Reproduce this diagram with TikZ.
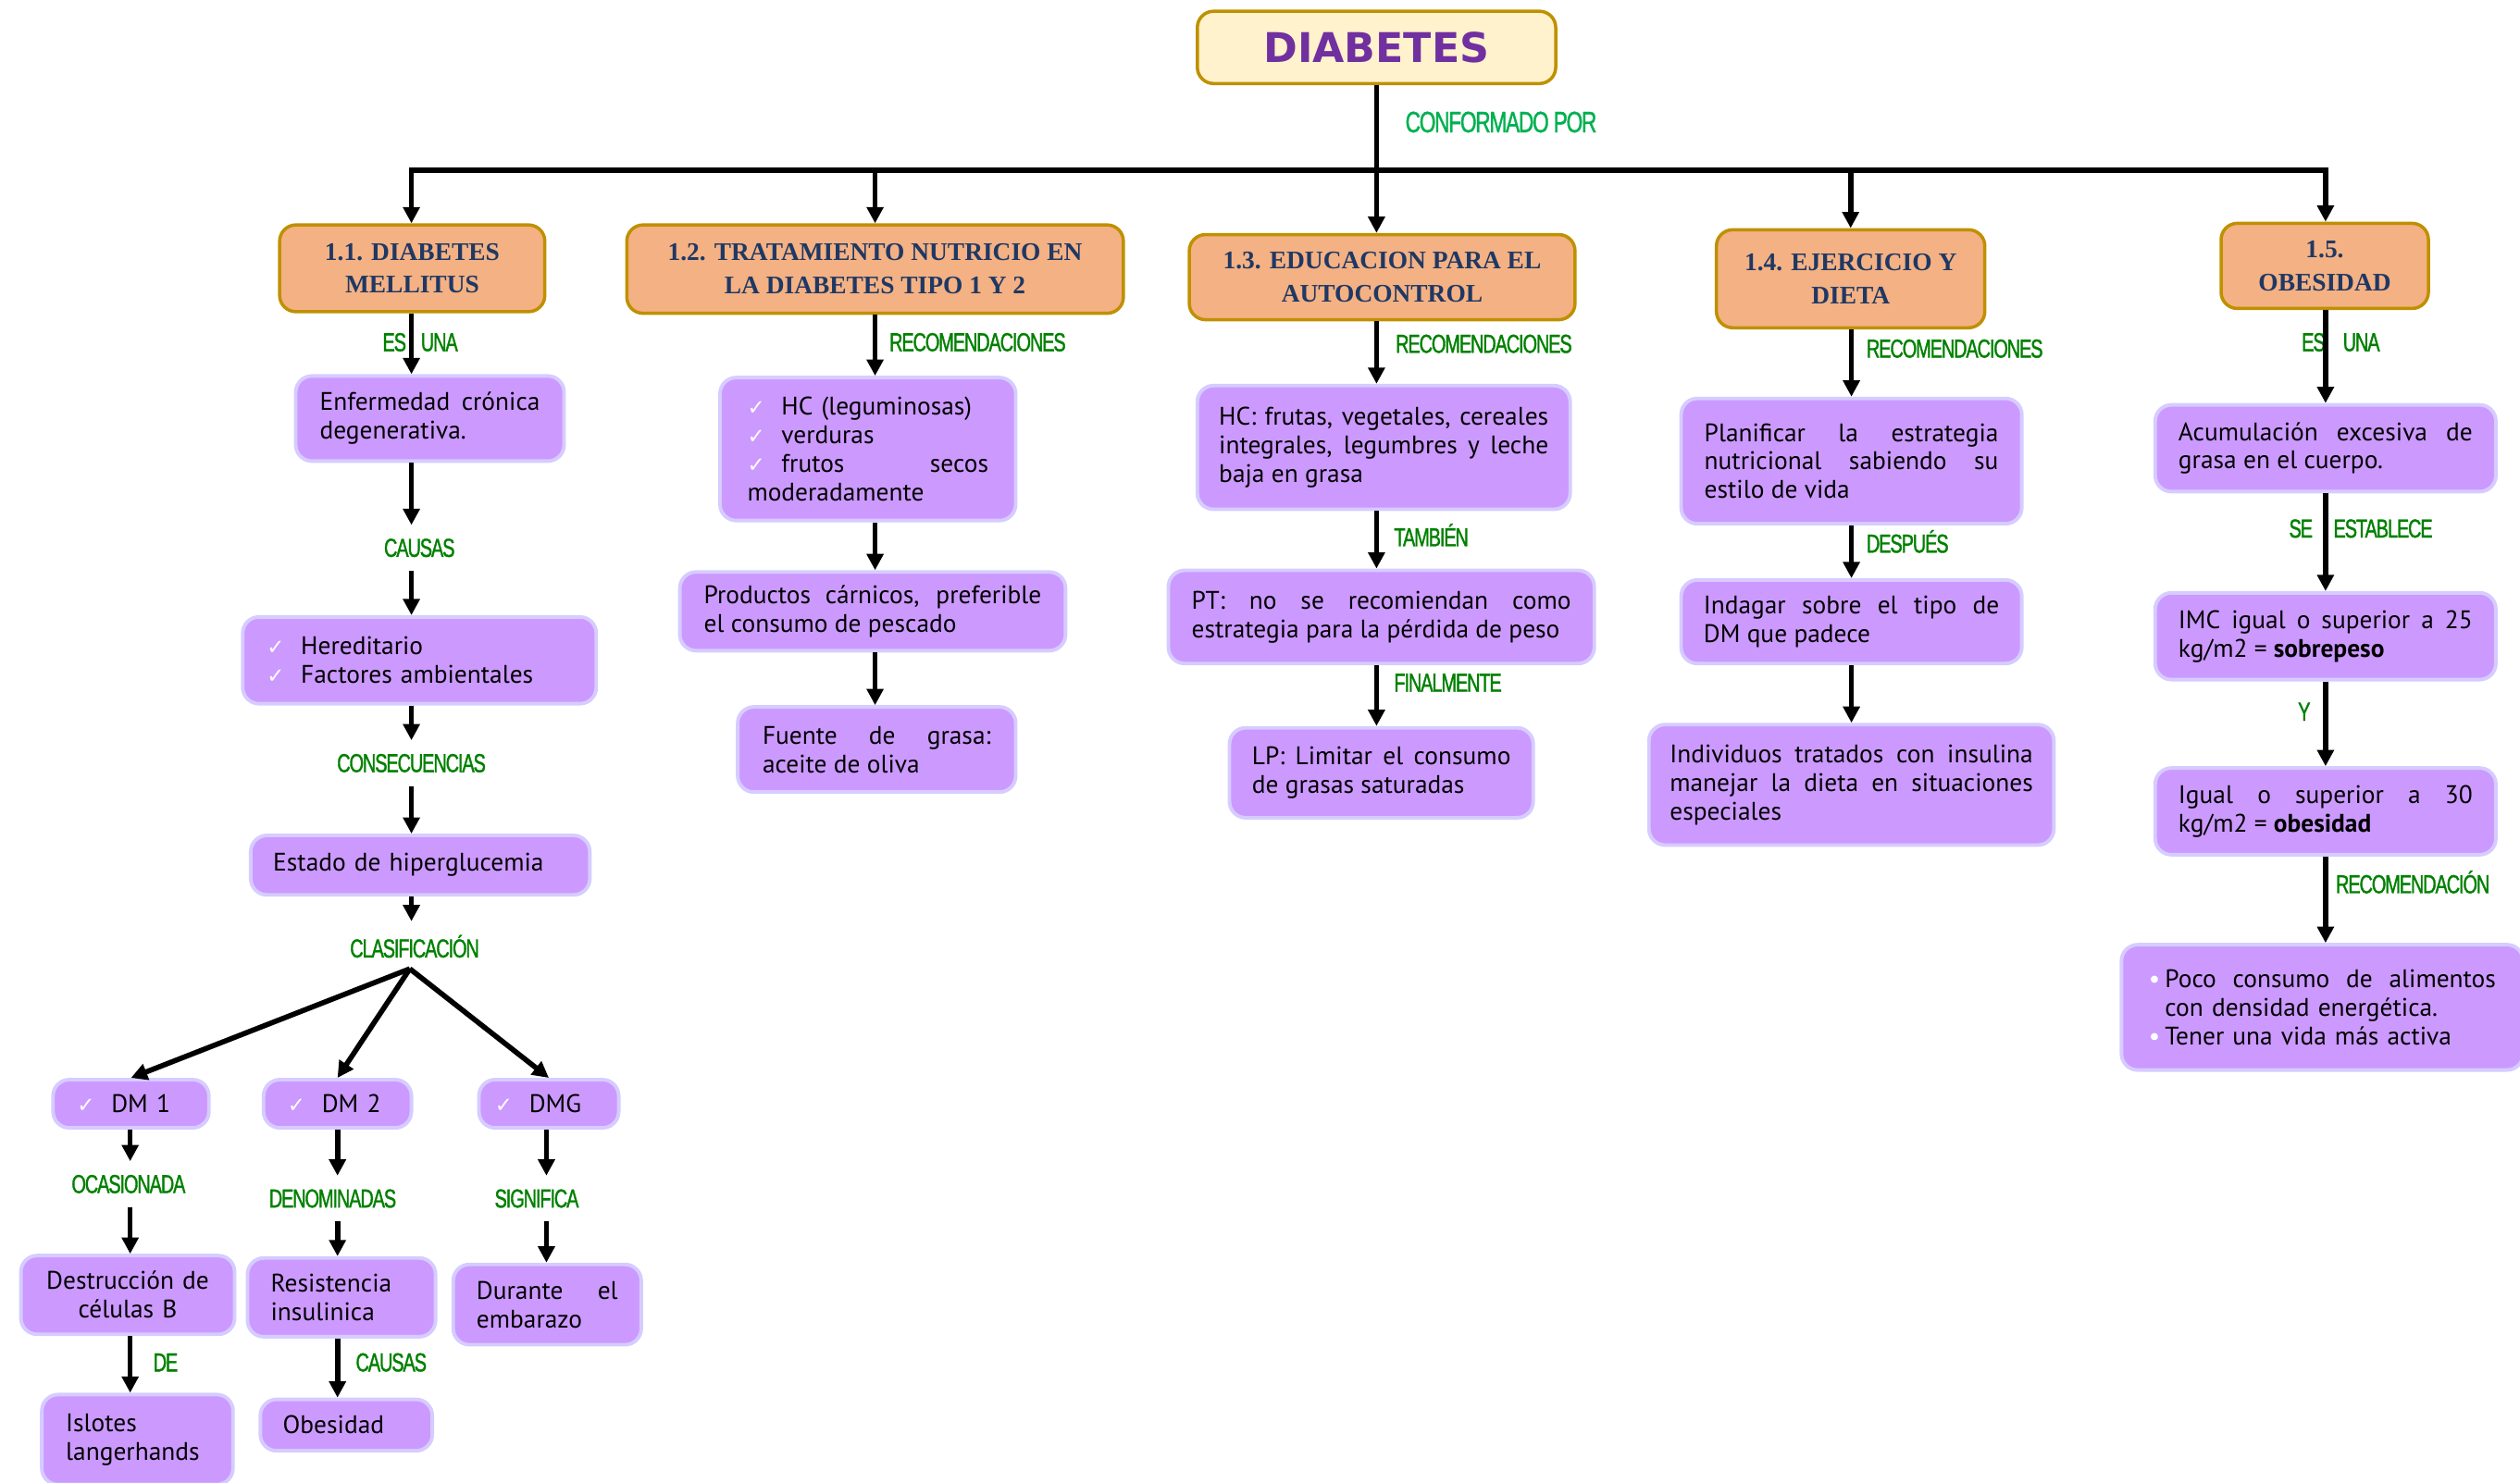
\documentclass[tikz,border=0pt]{standalone}
\usepackage{fontspec}
\setmainfont{PT Sans}
\newfontfamily\hdfont{Liberation Serif}
\newfontfamily\lblfont[FakeStretch=0.71, LetterSpace=-4.0, FakeBold=1.2]{Liberation Sans}
\newfontfamily\symfont{DejaVu Sans}
\usetikzlibrary{arrows.meta}

\definecolor{hdfill}{HTML}{F4B183}
\definecolor{gold}{HTML}{BF9000}
\definecolor{cream}{HTML}{FFF2CC}
\definecolor{navy}{HTML}{1F3864}
\definecolor{ttlpurple}{HTML}{7030A0}
\definecolor{lilac}{HTML}{CC99FF}
\definecolor{lilacline}{HTML}{D6CCFF}
\definecolor{lblgreen}{HTML}{008000}
\definecolor{confgreen}{HTML}{00B050}

\hyphenpenalty=10000
\exhyphenpenalty=10000
\newcommand{\du}{0.017366cm}
\newcommand{\chk}{\makebox[10.5pt][l]{\textcolor{white}{\symfont\fontsize{6.5}{6.5}\selectfont ✓}}}
\newcommand{\blt}{\makebox[5pt][l]{\textcolor{white}{•}}}

\begin{document}
\begin{tikzpicture}[x=\du, y=-\du,
    title/.style={rectangle, rounded corners=5pt, draw=gold, line width=1pt, fill=cream,
      minimum width=223*\du, minimum height=45*\du, text=ttlpurple,
      font=\symfont\bfseries\fontsize{12.6}{14}\selectfont},
    head/.style={rectangle, rounded corners=5pt, draw=gold, line width=1pt, fill=hdfill,
      align=center, text=navy, font=\hdfont\bfseries\fontsize{7.8}{10.2}\selectfont},
    wh/.style 2 args={minimum width=#1*\du, minimum height=#2*\du},
    card/.style={rectangle, rounded corners=5pt, draw=lilacline, line width=1.1pt, fill=lilac,
      inner xsep=0pt, inner ysep=2pt, font=\fontsize{7.8}{8.8}\selectfont},
    sz/.style n args={3}{minimum width=#1*\du, minimum height=#2*\du, text width=#3*\du},
    lbl/.style={text=lblgreen, font=\lblfont\fontsize{8}{8}\selectfont, inner xsep=1pt, inner ysep=4pt},
    link/.style={line width=1.6pt},
    arr/.style={link, -{Triangle[length=5pt,width=5pt]}}]
  \useasboundingbox (0,0) rectangle (1568,923);

  % top
  \node[title] (T) at (856.5,29.5) {DIABETES};
  \node[lbl, text=confgreen, font=\lblfont\fontsize{9.1}{9.1}\selectfont] (conf) at (934,76) {CONFORMADO POR};

  \coordinate (j1) at (256,106);
  \coordinate (j2) at (544.5,106);
  \coordinate (j4) at (1151.5,106);
  \coordinate (j5) at (1447,106);

  \node[head, wh={165}{54}] (H1) at (256.5,167) {1.1. DIABETES\\MELLITUS};
  \node[head, wh={309}{55}] (H2) at (544.5,167.5) {1.2. TRATAMIENTO NUTRICIO EN\\LA DIABETES TIPO 1 Y 2};
  \node[head, wh={240}{53}] (H3) at (860,172.5) {1.3. EDUCACION PARA EL\\AUTOCONTROL};
  \node[head, wh={167}{61}] (H4) at (1151.5,173.5) {1.4. EJERCICIO Y\\DIETA};
  \node[head, wh={129}{53}] (H5) at (1446.5,165.5) {1.5.\\OBESIDAD};

  \draw[link, line cap=rect] (j1) -- (j5);
  \draw[arr] (T.south) -- (T.south |- H3.north);
  \draw[arr] (j1) -- (j1 |- H1.north);
  \draw[arr] (j2) -- (j2 |- H2.north);
  \draw[arr] (j4) -- (j4 |- H4.north);
  \draw[arr] (j5) -- (j5 |- H5.north);

  % 1.1 diabetes mellitus
  \coordinate (c1) at (256,0);
  \node[lbl] (esuna1) at (261.5,213) {ES\hspace{4.5pt}UNA};
  \node[card, sz={167}{53}{137}, align=justify] (P1) at (267.5,260.5) {Enfermedad crónica\linebreak degenerativa.};
  \node[lbl] (causas1) at (261,341) {CAUSAS};
  \node[card, sz={220}{54}{190}, align=left] (P2) at (261,411) {\chk Hereditario\\{}\chk Factores ambientales};
  \node[lbl] (conse) at (256,475) {CONSECUENCIAS};
  \node[card, sz={211}{37}{183}, align=left] (P3) at (261.5,538.5) {Estado de hiperglucemia};
  \node[lbl] (clasif) at (258,589) {CLASIFICACIÓN};
  \coordinate (br) at (255,603);

  \draw[arr] (c1 |- H1.south) -- (c1 |- P1.north);
  \draw[arr] (c1 |- P1.south) -- (c1 |- causas1.north);
  \draw[arr] (c1 |- causas1.south) -- (c1 |- P2.north);
  \draw[arr] (c1 |- P2.south) -- (c1 |- conse.north);
  \draw[arr] (c1 |- conse.south) -- (c1 |- P3.north);
  \draw[arr] (c1 |- P3.south) -- (c1 |- clasif.north);

  \node[card, sz={97}{30}{67}, align=left] (dm1) at (81.5,687) {\chk DM 1};
  \node[card, sz={92}{30}{62}, align=left] (dm2) at (210,687) {\chk DM 2};
  \node[card, sz={87}{30}{67}, align=left] (dmg) at (341.5,687) {\chk DMG};
  \draw[arr] (br) -- (dm1.north);
  \draw[arr] (br) -- (dm2.north);
  \draw[arr] (br) -- (dmg.north);

  % DM 1
  \coordinate (cdm1) at (81,0);
  \node[lbl] (ocas) at (80,737) {OCASIONADA};
  \node[card, sz={133}{49}{110}, align=center] (des) at (79.5,806) {Destrucción de\\células B};
  \node[lbl, anchor=west] (de) at (93,848) {DE};
  \node[card, sz={119}{56}{89}, align=left] (isl) at (85.5,896) {Islotes\\langerhands};
  \draw[arr] (cdm1 |- dm1.south) -- (cdm1 |- ocas.north);
  \draw[arr] (cdm1 |- ocas.south) -- (cdm1 |- des.north);
  \draw[arr] (cdm1 |- des.south) -- (cdm1 |- isl.north);

  % DM 2
  \coordinate (cdm2) at (210,0);
  \node[lbl] (denom) at (207,746) {DENOMINADAS};
  \node[card, sz={117}{49}{88}, align=left] (res) at (212.5,807.5) {Resistencia\\insulinica};
  \node[lbl, anchor=west] (causas2) at (219,848) {CAUSAS};
  \node[card, sz={107}{32}{79}, align=left] (obe) at (215.5,887) {Obesidad};
  \draw[arr] (cdm2 |- dm2.south) -- (cdm2 |- denom.north);
  \draw[arr] (cdm2 |- denom.south) -- (cdm2 |- res.north);
  \draw[arr] (cdm2 |- res.south) -- (cdm2 |- obe.north);

  % DMG
  \coordinate (cdmg) at (340,0);
  \node[lbl] (signif) at (334,746) {SIGNIFICA};
  \node[card, sz={117}{50}{88}, align=justify] (dur) at (340.5,812) {Durante el\linebreak embarazo};
  \draw[arr] (cdmg |- dmg.south) -- (cdmg |- signif.north);
  \draw[arr] (cdmg |- signif.south) -- (cdmg |- dur.north);

  % 1.2 tratamiento nutricio
  \coordinate (c2) at (544.5,0);
  \node[lbl, anchor=west] (rec2) at (551,213) {RECOMENDACIONES};
  \node[card, sz={184}{89}{150}, align=left] (hcl) at (540,279.5) {\chk HC (leguminosas)\\{}\chk verduras\\{}\chk frutos\hfill secos\\moderadamente};
  \node[card, sz={240}{49}{210}, align=justify] (prod) at (543,380.5) {Productos cárnicos, preferible\linebreak el consumo de pescado};
  \node[card, sz={173}{53}{142}, align=justify] (fue) at (545.5,466.5) {Fuente de grasa:\linebreak aceite de oliva};
  \draw[arr] (c2 |- H2.south) -- (c2 |- hcl.north);
  \draw[arr] (c2 |- hcl.south) -- (c2 |- prod.north);
  \draw[arr] (c2 |- prod.south) -- (c2 |- fue.north);

  % 1.3 educacion para el autocontrol
  \coordinate (c3) at (856.5,0);
  \node[lbl, anchor=west] (rec3) at (866,214) {RECOMENDACIONES};
  \node[card, sz={232}{77}{205}, align=justify] (hc) at (861,278.5) {HC: frutas, vegetales, cereales\linebreak integrales, legumbres y leche\linebreak baja en grasa};
  \node[lbl, anchor=west] (tamb) at (865,333) {TAMBIÉN};
  \node[card, sz={265}{58}{236}, align=justify] (pt) at (859.5,384) {PT: no se recomiendan como\linebreak estrategia para la pérdida de peso};
  \node[lbl, anchor=west] (fin) at (865,425) {FINALMENTE};
  \node[card, sz={189}{56}{161}, align=justify] (lp) at (859.5,481) {LP: Limitar el consumo\linebreak de grasas saturadas};
  \draw[arr] (c3 |- H3.south) -- (c3 |- hc.north);
  \draw[arr] (c3 |- hc.south) -- (c3 |- pt.north);
  \draw[arr] (c3 |- pt.south) -- (c3 |- lp.north);

  % 1.4 ejercicio y dieta
  \coordinate (c4) at (1152,0);
  \node[lbl, anchor=west] (rec4) at (1159,217) {RECOMENDACIONES};
  \node[card, sz={212}{78}{183}, align=justify] (plan) at (1152,287) {Planificar la estrategia\linebreak nutricional sabiendo su\linebreak estilo de vida};
  \node[lbl, anchor=west] (desp) at (1159,337) {DESPUÉS};
  \node[card, sz={212}{52}{184}, align=justify] (inda) at (1152,387) {Indagar sobre el tipo de\linebreak DM que padece};
  \node[card, sz={252}{75}{226}, align=justify] (indi) at (1152,488.5) {Individuos tratados con insulina\linebreak manejar la dieta en situaciones\linebreak especiales};
  \draw[arr] (c4 |- H4.south) -- (c4 |- plan.north);
  \draw[arr] (c4 |- plan.south) -- (c4 |- inda.north);
  \draw[arr] (c4 |- inda.south) -- (c4 |- indi.north);

  % 1.5 obesidad
  \coordinate (c5) at (1447,0);
  \node[lbl] (esuna5) at (1456.5,213) {ES\hspace{5.4pt}UNA};
  \node[card, sz={212}{54}{183}, align=justify] (acu) at (1447,279) {Acumulación excesiva de\linebreak grasa en el cuerpo.};
  \node[lbl] (seest) at (1469,329) {SE\hspace{6.4pt}ESTABLECE};
  \node[card, sz={212}{54}{183}, align=justify] (imc) at (1447,396) {IMC igual o superior a 25\linebreak kg/m2 = \textbf{sobrepeso}};
  \node[lbl, anchor=east] (y5) at (1440,443) {Y};
  \node[card, sz={212}{54}{183}, align=justify] (igu) at (1447,505) {Igual o superior a 30\linebreak kg/m2 = \textbf{obesidad}};
  \node[lbl, anchor=west] (reco5) at (1451,549) {RECOMENDACIÓN};
  \node[card, sz={250}{78}{216}, align=left] (poco) at (1445,627) {\blt Poco\hfill consumo\hfill de\hfill alimentos\\\hspace*{5pt}con densidad energética.\\{}\blt Tener una vida más activa};
  \draw[arr] (c5 |- H5.south) -- (c5 |- acu.north);
  \draw[arr] (c5 |- acu.south) -- (c5 |- imc.north);
  \draw[arr] (c5 |- imc.south) -- (c5 |- igu.north);
  \draw[arr] (c5 |- igu.south) -- (c5 |- poco.north);
\end{tikzpicture}
\end{document}
